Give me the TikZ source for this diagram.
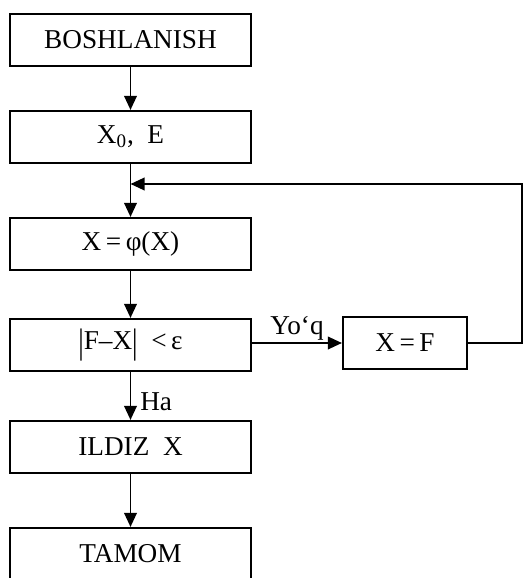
\documentclass[tikz,border=0pt]{standalone}
\usepackage{fontspec}
\setmainfont{Liberation Serif}
\usepackage{graphicx}
\usepackage{tikz}
\usetikzlibrary{arrows.meta, positioning, calc}

\newcommand{\chiziq}{\raisebox{-0.16em}{\scalebox{1}[1.3]{|}}}

\tikzset{
  blok/.style={draw, line width=1.2pt, minimum width=4.82cm, minimum height=1.04cm, inner sep=2pt,
    font=\fontsize{15.5}{18}\selectfont},
  oqim/.style={-{Triangle[length=0.28cm, width=0.25cm]}, line width=1.1pt},
  yozuv/.style={font=\fontsize{15.5}{18}\selectfont, inner sep=3pt}
}

\begin{document}
\begin{tikzpicture}
  \useasboundingbox (0,0) rectangle (10.48,-11.56);

  % asosiy bloklar
  \node[blok] (bosh) at (2.61, -0.80) {BOSHLANISH};
  \node[blok] (kirit) at (2.61, -2.74) {X\textsubscript{0},\ \ E};
  \node[blok] (iter) at (2.61, -4.88) {X\,=\,φ(X)};
  \node[blok] (shart) at (2.61, -6.90) {\chiziq F–X\chiziq\ \ <\,ε};
  \node[blok] (ildiz) at (2.61, -8.94) {ILDIZ\ \ X};
  \node[blok] (tamom) at (2.61, -11.08) {TAMOM};
  \node[blok, minimum width=2.48cm] (almash) at (8.10, -6.86) {X\,=\,F};

  % qaytish nuqtalari
  \coordinate (qayt) at (2.61, -3.68);
  \coordinate (ong) at (10.44, -3.68);

  \draw[oqim] (bosh) -- (kirit);
  \draw[line width=1.1pt] (kirit) -- (qayt);
  \draw[oqim] (qayt) -- (iter);
  \draw[oqim] (iter) -- (shart);
  \draw[oqim] (shart) -- node[yozuv, right, xshift=2pt, yshift=-3pt] {Ha} (ildiz);
  \draw[oqim] (shart.east |- almash) -- node[yozuv, above, yshift=-2pt] {Yo‘q} (almash);

  \draw[oqim] (ildiz) -- (tamom);

  % takrorlash
  \draw[oqim] (almash.east) -| (ong) -- (qayt);
\end{tikzpicture}
\end{document}
